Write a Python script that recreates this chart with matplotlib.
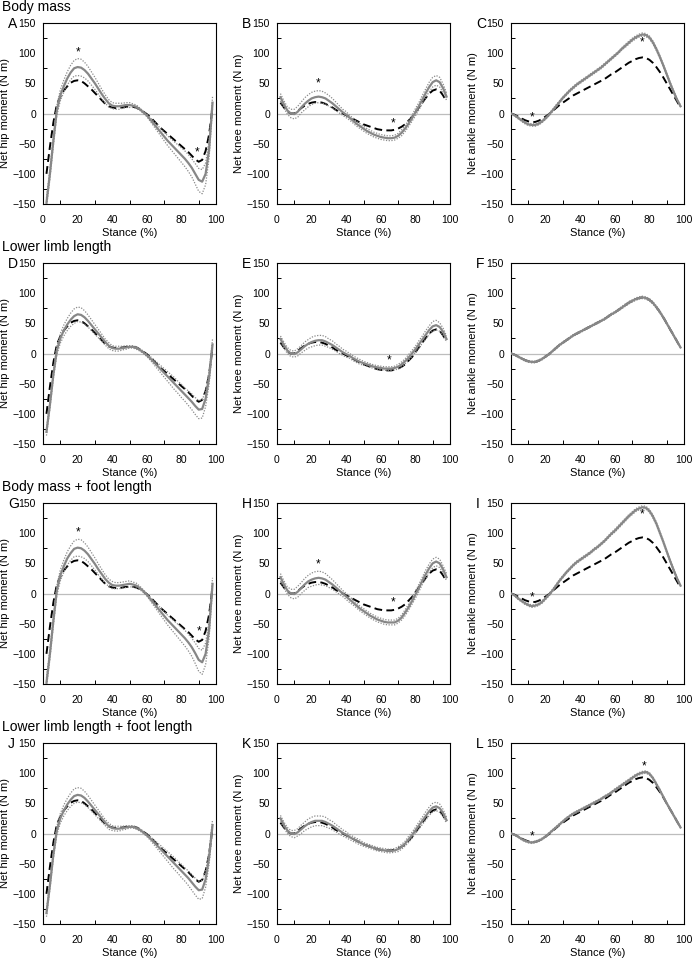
import numpy as np
import matplotlib
matplotlib.use("Agg")
import matplotlib.pyplot as plt

plt.rcParams['font.family'] = ['Liberation Sans', 'DejaVu Sans']

# stance grids (% of stance)
x_hk = np.arange(2, 100, 2)      # hip / knee samples, 2..98
x_ank = np.arange(0, 100, 2)     # ankle samples, 0..98

# reference model (black dashed), one per joint
ref_hip = [-100, -55, -15, 15, 28, 38, 45, 51, 54, 55, 54, 50, 45, 40, 34, 28, 22, 16, 12, 10,
           9, 9, 10, 11, 11, 11, 10, 7, 3, -1, -6, -12, -18, -24, -29, -34, -39, -44, -49, -54,
           -59, -64, -70, -76, -80, -77, -62, -35, 10]
ref_knee = [18, 10, 3, 0, 0, 4, 9, 13, 16, 18, 19, 19, 18, 16, 13, 10, 6, 3, 0, -3,
            -6, -9, -12, -15, -18, -20, -22, -24, -26, -27, -28, -28, -28, -27, -25, -22, -18, -12, -6, 2,
            10, 18, 26, 33, 38, 40, 38, 30, 20]
ref_ankle = [0, -2, -5, -8, -11, -13, -14, -14, -12, -9, -5, -1, 4, 9, 14, 18, 22, 26, 30, 33,
             36, 39, 42, 45, 48, 51, 54, 57, 61, 65, 68, 72, 76, 80, 84, 87, 90, 92, 93, 92,
             89, 84, 77, 69, 60, 50, 40, 30, 20, 10]

# scaled models (grey mean) and their SD
mean_A = [-148, -100, -45, 5, 30, 45, 58, 68, 75, 77, 76, 72, 66, 58, 50, 41, 32, 24, 17, 13,
          12, 12, 13, 14, 14, 13, 11, 7, 2, -3, -10, -17, -24, -31, -38, -45, -51, -57, -63, -69,
          -75, -82, -90, -100, -110, -113, -100, -60, 18]
sd_A = [8, 8, 8, 8, 9, 10, 11, 12, 13, 14, 14, 13, 12, 11, 10, 9, 8, 7, 6, 5,
        5, 5, 4, 4, 4, 3, 3, 2, 2, 2, 3, 4, 5, 6, 7, 8, 9, 10, 11, 12,
        13, 14, 15, 17, 19, 20, 18, 14, 10]
mean_B = [27, 15, 5, 0, -1, 3, 10, 16, 21, 25, 27, 28, 27, 25, 21, 17, 12, 7, 2, -2,
          -7, -12, -17, -21, -25, -29, -32, -35, -37, -39, -40, -41, -41, -40, -37, -32, -25, -17, -8, 2,
          12, 23, 34, 44, 52, 55, 52, 42, 28]
sd_B = [6, 6, 6, 7, 8, 9, 9, 10, 10, 10, 10, 10, 10, 9, 9, 8, 7, 6, 5, 5,
        4, 4, 4, 4, 4, 4, 4, 4, 4, 4, 4, 4, 4, 4, 4, 5, 5, 5, 5, 6,
        6, 7, 7, 8, 8, 8, 8, 7, 6]
mean_C = [0, -3, -7, -11, -15, -18, -19, -19, -17, -13, -8, -2, 5, 12, 19, 26, 32, 38, 43, 48,
          52, 56, 60, 64, 68, 72, 76, 81, 86, 91, 96, 101, 107, 112, 117, 122, 126, 129, 131, 130,
          126, 118, 107, 94, 80, 65, 50, 36, 23, 12]
sd_C = [0.5, 1, 1.5, 2, 2, 2, 2, 2, 2, 2, 2, 2, 2, 2, 2, 2, 2, 2, 2, 2,
        2, 2, 2, 2, 2, 2, 2, 2, 2, 2, 2, 2, 2, 2.5, 2.5, 2.5, 2.5, 2.5, 2.5, 2.5,
        2.5, 2.5, 2.5, 2.5, 2, 2, 2, 2, 1.5, 1.5]

mean_D = [-130, -85, -35, 5, 25, 38, 48, 56, 62, 65, 64, 60, 54, 47, 40, 33, 26, 19, 13, 9,
          8, 8, 9, 10, 11, 11, 9, 6, 2, -3, -8, -14, -20, -26, -32, -38, -44, -50, -56, -62,
          -68, -74, -80, -87, -93, -92, -75, -40, 15]
sd_D = [6, 6, 6, 7, 8, 9, 10, 11, 12, 12, 12, 11, 10, 9, 8, 7, 6, 5, 5, 4,
        4, 4, 3, 3, 2, 2, 2, 2, 2, 2, 3, 4, 5, 6, 7, 8, 9, 10, 10, 11,
        11, 12, 13, 14, 15, 15, 13, 11, 9]
mean_E = [24, 14, 5, 0, -1, 2, 7, 12, 16, 19, 21, 22, 22, 20, 17, 14, 10, 6, 2, -1,
          -4, -8, -11, -14, -16, -18, -20, -22, -23, -24, -25, -25, -25, -24, -22, -18, -13, -7, 0, 7,
          15, 23, 31, 39, 45, 47, 44, 36, 24]
sd_E = [5, 5, 5, 5, 5, 6, 6, 7, 7, 8, 8, 8, 8, 8, 7, 7, 6, 6, 5, 5,
        4, 4, 4, 4, 3, 3, 3, 3, 3, 3, 3, 3, 3, 3, 4, 4, 4, 5, 5, 5,
        6, 6, 7, 7, 8, 8, 7, 6, 5]
mean_F = [0, -2, -5, -8, -11, -13, -14, -14, -12, -9, -5, -1, 4, 9, 14, 18, 22, 26, 30, 33,
          36, 39, 42, 45, 48, 51, 54, 57, 61, 65, 68, 72, 76, 80, 84, 87, 90, 92, 93, 92,
          89, 84, 77, 69, 60, 50, 40, 30, 20, 10]
sd_F = [0.5, 1, 1, 1.5, 1.5, 1.5, 1.5, 1.5, 1.5, 1.5, 1.5, 1.5, 1.5, 1.5, 1.5, 1.5, 1.5, 1.5, 1.5, 1.5,
        1.5, 1.5, 1.5, 1.5, 1.5, 1.5, 1.5, 1.5, 1.5, 1.5, 1.5, 1.5, 2, 2, 2, 2, 2, 2, 2, 2,
        2, 2, 2, 2, 1.5, 1.5, 1.5, 1.5, 1.5, 1]

mean_G = [-148, -100, -45, 5, 30, 45, 58, 67, 74, 76, 75, 71, 65, 57, 49, 40, 32, 24, 18, 14,
          13, 13, 14, 15, 16, 15, 13, 9, 4, -2, -9, -16, -23, -30, -37, -44, -50, -56, -62, -68,
          -74, -81, -89, -99, -110, -114, -100, -60, 16]
sd_G = [8, 8, 8, 8, 9, 10, 11, 12, 13, 14, 14, 13, 12, 11, 10, 9, 8, 7, 6, 6,
        5, 5, 5, 5, 5, 4, 4, 3, 2, 2, 3, 4, 5, 6, 7, 8, 9, 10, 11, 12,
        13, 14, 15, 17, 19, 20, 18, 14, 10]
mean_H = [27, 15, 5, 0, -1, 3, 9, 15, 20, 23, 25, 26, 25, 23, 19, 15, 10, 5, 0, -5,
          -10, -15, -20, -25, -29, -33, -37, -40, -43, -45, -47, -48, -48, -48, -45, -40, -32, -23, -13, -2,
          9, 21, 32, 42, 50, 53, 50, 40, 27]
sd_H = [6, 6, 6, 7, 8, 9, 9, 10, 10, 11, 11, 11, 11, 10, 9, 8, 7, 6, 5, 5,
        5, 4, 4, 4, 4, 4, 4, 4, 4, 4, 4, 4, 4, 4, 4, 4, 5, 5, 5, 6,
        6, 6, 7, 7, 7, 7, 7, 6, 6]
mean_I = [0, -3, -8, -12, -16, -19, -21, -20, -18, -14, -8, -2, 5, 13, 21, 28, 35, 41, 47, 52,
          56, 60, 64, 68, 73, 77, 82, 87, 93, 99, 104, 110, 116, 122, 128, 133, 138, 141, 143, 142,
          137, 128, 116, 101, 86, 70, 54, 39, 25, 13]
sd_I = [0.5, 1, 1.5, 2, 2, 2, 2, 2, 2, 2, 2, 2, 2, 2, 2, 2, 2, 2, 2, 2,
        2, 2, 2, 2, 2, 2, 2, 2, 2, 2, 2.5, 2.5, 2.5, 2.5, 2.5, 2.5, 2.5, 2.5, 2.5, 2.5,
        2.5, 2.5, 2.5, 2.5, 2, 2, 2, 2, 1.5, 1.5]

mean_J = [-132, -86, -35, 5, 25, 38, 48, 56, 62, 64, 63, 59, 53, 46, 39, 32, 25, 18, 12, 9,
          8, 8, 9, 10, 11, 11, 9, 6, 2, -3, -8, -14, -20, -26, -32, -38, -44, -50, -56, -62,
          -68, -74, -81, -88, -94, -93, -76, -40, 14]
sd_J = [6, 6, 6, 7, 8, 9, 10, 11, 12, 12, 12, 11, 10, 9, 8, 7, 6, 5, 5, 4,
        4, 4, 3, 3, 2, 2, 2, 2, 2, 2, 3, 4, 5, 6, 7, 8, 9, 10, 10, 11,
        11, 12, 13, 14, 15, 15, 13, 11, 9]
mean_K = [25, 14, 5, 0, -1, 2, 7, 12, 16, 19, 21, 21, 21, 19, 16, 13, 9, 5, 1, -2,
          -6, -9, -12, -15, -18, -20, -22, -24, -26, -27, -28, -29, -29, -28, -26, -22, -17, -10, -3, 5,
          13, 21, 29, 37, 43, 45, 42, 34, 22]
sd_K = [5, 5, 5, 5, 6, 6, 7, 7, 8, 8, 8, 8, 8, 8, 7, 7, 6, 6, 5, 5,
        4, 4, 4, 4, 3, 3, 3, 3, 3, 3, 3, 3, 3, 3, 4, 4, 4, 5, 5, 5,
        6, 6, 7, 7, 7, 7, 7, 6, 5]
mean_L = [0, -2, -5, -9, -12, -14, -15, -14, -12, -9, -5, 0, 5, 10, 15, 20, 25, 29, 33, 36,
          39, 42, 45, 48, 51, 54, 57, 61, 64, 68, 72, 76, 80, 84, 88, 92, 96, 99, 101, 102,
          99, 92, 82, 72, 61, 50, 40, 30, 20, 10]
sd_L = [0.5, 1, 1, 1.5, 1.5, 1.5, 1.5, 1.5, 1.5, 1.5, 1.5, 1.5, 1.5, 1.5, 1.5, 1.5, 1.5, 1.5, 1.5, 1.5,
        1.5, 1.5, 1.5, 1.5, 1.5, 1.5, 1.5, 1.5, 1.5, 1.5, 2, 2, 2, 2, 2, 2, 2, 2, 2, 2,
        2, 2, 2, 2, 1.5, 1.5, 1.5, 1.5, 1.5, 1]

# significance markers (stance %, moment)
stars = {
    'A': [(20, 102), (89, -65)],
    'B': [(24, 50), (67, -17)],
    'C': [(12, -6), (76, 118)],
    'D': [],
    'E': [(65, -12)],
    'F': [],
    'G': [(20, 102), (90, -63)],
    'H': [(24, 48), (67, -15)],
    'I': [(12, -6), (76, 131)],
    'J': [],
    'K': [],
    'L': [(12, -5), (77, 111)],
}

row_titles = ['Body mass', 'Lower limb length', 'Body mass + foot length',
              'Lower limb length + foot length']
joint_labels = ['Net hip moment (N m)', 'Net knee moment (N m)', 'Net ankle moment (N m)']

panels = [
    ['A', 'B', 'C'],
    ['D', 'E', 'F'],
    ['G', 'H', 'I'],
    ['J', 'K', 'L'],
]
means = {'A': mean_A, 'B': mean_B, 'C': mean_C, 'D': mean_D, 'E': mean_E, 'F': mean_F,
         'G': mean_G, 'H': mean_H, 'I': mean_I, 'J': mean_J, 'K': mean_K, 'L': mean_L}
sds = {'A': sd_A, 'B': sd_B, 'C': sd_C, 'D': sd_D, 'E': sd_E, 'F': sd_F,
       'G': sd_G, 'H': sd_H, 'I': sd_I, 'J': sd_J, 'K': sd_K, 'L': sd_L}
refs = [ref_hip, ref_knee, ref_ankle]

W, H = 695, 960
fig = plt.figure(figsize=(W / 100, H / 100), dpi=100)

col_left = [43, 277, 511]
row_top = [23, 263, 503, 743]
ax_w, ax_h = 173, 181

for r in range(4):
    fig.text(2 / W, 1 - (row_top[r] - 16) / H, row_titles[r], fontsize=10,
             ha='left', va='center')
    for c in range(3):
        letter = panels[r][c]
        ax = fig.add_axes([col_left[c] / W, 1 - (row_top[r] + ax_h) / H, ax_w / W, ax_h / H])
        x = x_ank if c == 2 else x_hk
        m = np.array(means[letter], dtype=float)
        s = np.array(sds[letter], dtype=float)

        ax.axhline(0, color='#bdbdbd', lw=0.9, zorder=1)
        ax.plot(x, refs[c], color='black', lw=1.4, dashes=(4, 2.2), zorder=2)
        ax.plot(x, m + s, color='#8a8a8a', lw=0.9, linestyle=(0, (1, 1.2)), zorder=3)
        ax.plot(x, m - s, color='#8a8a8a', lw=0.9, linestyle=(0, (1, 1.2)), zorder=3)
        ax.plot(x, m, color='#878787', lw=1.6, zorder=4)

        for sx, sy in stars[letter]:
            ax.text(sx, sy, '*', fontsize=8.5, ha='center', va='center', zorder=5)

        ax.set_xlim(0, 100)
        ax.set_ylim(-150, 150)
        ax.set_xticks([0, 20, 40, 60, 80, 100])
        ax.set_yticks([-150, -100, -50, 0, 50, 100, 150])
        ax.set_xticks([10, 30, 50, 70, 90], minor=True)
        ax.set_yticks([-125, -75, -25, 25, 75, 125], minor=True)
        ax.tick_params(which='major', length=0, labelsize=7.5)
        ax.tick_params(axis='x', which='major', pad=8)
        ax.tick_params(axis='y', which='major', pad=5)
        ax.tick_params(which='minor', direction='in', length=3, width=0.7)
        for sp in ax.spines.values():
            sp.set_linewidth(0.8)
        ax.set_xlabel('Stance (%)', fontsize=8, labelpad=2)
        ax.set_ylabel(joint_labels[c], fontsize=8, labelpad=2)

        fig.text((col_left[c] - 35) / W, 1 - (row_top[r] + 1) / H, letter, fontsize=10,
                 ha='left', va='center')

fig.savefig('out.png', dpi=100)
